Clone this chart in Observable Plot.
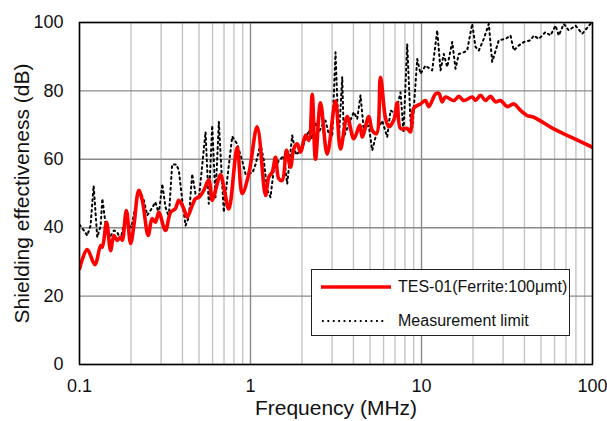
<!DOCTYPE html>
<html><head><meta charset="utf-8">
<script src="https://cdn.jsdelivr.net/npm/d3@7"></script>
<script src="https://cdn.jsdelivr.net/npm/@observablehq/plot@0.6"></script>
<style>
html,body{margin:0;padding:0;background:#fff;}
body{font-family:Arial,"Liberation Sans",sans-serif;}
#wrap{position:relative;width:607px;height:421px;overflow:hidden;}
#legend{position:absolute;left:311px;top:269px;width:259px;height:67px;border:1px solid #222;background:#fff;box-sizing:border-box;font-size:16px;color:#111;}
#legend .row{position:absolute;left:0;display:flex;align-items:center;height:20px;}
#legend svg{margin-left:9px;margin-right:7px;}
</style></head><body><div id="wrap"></div>
<script>
// TES-01 (Ferrite:100µmt) shielding effectiveness
const redFreq = [0.100,0.111,0.123,0.133,0.136,0.144,0.152,0.159,0.166,0.174,0.178,0.188,0.199,0.208,0.222,0.233,0.252,0.266,0.278,0.291,0.318,0.341,0.364,0.381,0.407,0.426,0.456,0.477,0.499,0.533,0.570,0.597,0.624,0.668,0.698,0.747,0.836,0.894,0.977,1.094,1.224,1.279,1.339,1.401,1.464,1.532,1.624,1.713,1.792,1.876,1.961,2.097,2.193,2.295,2.399,2.567,2.809,3.141,3.360,3.677,4.019,4.358,4.500,4.918,5.148,5.456,5.757,6.158,6.438,6.887,7.210,7.540,8.25,8.62,9.02,9.87,10.55,11.03,12.08,12.63,13.22,13.82,15.45,16.53,17.68,19.79,20.69,22.13,23.68,25.32,27.08,28.97,31.71,34.66,37.93,41.5,45.36,59.38,71.12,100];
const redDb = [28,33.6,29.2,34.8,34.3,41.6,33.3,37.7,36.3,37.2,36.3,45.0,35.4,40.6,50.9,48,37.7,42.7,41.6,44.5,39.2,44.5,45.6,48,45.6,43.1,46.5,48.5,48.9,50.9,54,48,50.9,55.5,51.9,45.5,63.5,50,55.7,69.5,49.4,54.8,56.2,60.6,54.3,53.8,62.6,57.7,63.1,64.5,62.1,67,65.5,79,60,76.5,61.5,77,63,72.5,66,70,66.5,72.5,68.5,67.5,84,72,69.5,71.5,76.5,69,69,68,75,76.2,77.2,75.4,79.1,79.3,76.8,78.2,77.2,78.4,77.2,78.2,77.2,78.7,77.2,78.4,76.8,77.2,75.4,76.2,74.3,72.8,72.3,68.9,67,63.5];

// Measurement limit
const limFreq = [0.100,0.106,0.111,0.116,0.121,0.127,0.133,0.136,0.142,0.148,0.159,0.166,0.174,0.182,0.188,0.201,0.222,0.238,0.249,0.260,0.278,0.291,0.305,0.318,0.333,0.348,0.369,0.381,0.399,0.417,0.436,0.456,0.477,0.499,0.546,0.570,0.597,0.624,0.653,0.683,0.698,0.734,0.782,0.836,0.894,0.935,0.977,1.027,1.070,1.144,1.196,1.252,1.309,1.369,1.464,1.565,1.639,1.753,1.845,2.006,2.097,2.193,2.295,2.399,2.508,2.626,2.746,2.870,3.005,3.141,3.284,3.439,3.513,3.757,4.019,4.207,4.399,4.598,4.918,5.148,5.508,5.891,6.302,6.589,7.047,7.540,7.85,8.25,8.62,8.86,9.44,9.87,10.55,11.55,12.36,12.92,13.50,14.14,15.12,15.81,16.53,17.68,18.50,19.79,20.69,21.63,23.13,24.75,25.91,28.31,30.99,33.15,34.66,37.07,39.65,43.40,45.36,48.53,53.11,56.80,60.75,63.51,67.96,72.67,79.54,87.06,97.3,100];
const limDb = [40.9,39.2,37.7,40.6,52.3,37.2,40.6,48.5,41.2,36.7,39.2,38.7,36.7,41.1,42,40,51.4,48,43.6,45,47.5,44.1,52.8,46.1,43.1,58.5,58.5,56.7,48,40.6,43.1,55.7,49.9,48.5,68,47,69.9,48.9,70.9,52.8,44.5,55,66.7,64.5,59.6,55.7,56,56,58.5,64.5,59.7,51,48.9,57.2,59.6,61,52.8,67,61.3,63.1,66,68.4,66,70.9,67.9,69.9,71.3,67.4,66.5,91.3,65.5,84.1,66.5,70.3,73.8,71.8,78.7,68.4,69.9,62.6,68.4,71.3,66.5,74.3,73.3,79.6,67.9,93.7,71.3,69.4,89.3,85,87.4,86,97.7,86,90.8,87,94.3,86.5,90.8,91.3,91.8,99.6,92.9,91.8,95.2,99.6,88.5,94.8,95.2,96.2,91.8,93.3,94.3,94.8,96.2,95.2,97.2,96.2,99.1,96.2,99.6,97.7,99.1,96.7,99.6,100];

const xTicks = [0.1, 1, 10, 100];
const xTickLabels = ["0.1", "1", "10", "100"];
const xMinor = [0.2,0.3,0.4,0.5,0.6,0.7,0.8,0.9,2,3,4,5,6,7,8,9,20,30,40,50,60,70,80,90];
const yTicks = [0, 20, 40, 60, 80, 100];
const seriesNames = ["TES-01(Ferrite:100μmt)", "Measurement limit"];
const xTitle = "Frequency (MHz)";
const yTitle = "Shielding effectiveness (dB)";

const red = redFreq.map((f, i) => ({f, v: redDb[i]}));
const lim = limFreq.map((f, i) => ({f, v: limDb[i]}));

const chart = Plot.plot({
  width: 607, height: 421,
  marginLeft: 79, marginRight: 15, marginTop: 22, marginBottom: 57,
  style: {fontFamily: "Arial, 'Liberation Sans', sans-serif", fontSize: "18px", color: "#111", background: "#fff", overflow: "visible"},
  x: {type: "log", domain: [0.1, 100]},
  y: {domain: [0, 100]},
  marks: [
    Plot.ruleX(xMinor, {stroke: "#c4c4c4", strokeWidth: 1.4}),
    Plot.ruleX(xTicks, {stroke: "#8a8a8a", strokeWidth: 1.4}),
    Plot.ruleY(yTicks, {stroke: "#8a8a8a", strokeWidth: 1.4}),
    Plot.line(lim, {x: "f", y: "v", stroke: "#000", strokeWidth: 2, strokeDasharray: "1.8,3.6", clip: true}),
    Plot.line(red, {x: "f", y: "v", stroke: "#ff0000", strokeWidth: 3.6, curve: "catmull-rom", clip: true}),
    Plot.frame({stroke: "#000", strokeWidth: 1.5}),
    Plot.axisX({ticks: xTicks, tickFormat: (d) => xTickLabels[xTicks.indexOf(d)], tickSize: 0, tickPadding: 15, label: null, fontSize: 18}),
    Plot.axisY({ticks: yTicks, tickSize: 0, tickPadding: 16, label: null, fontSize: 18}),
    Plot.text([xTitle], {frameAnchor: "bottom", dy: 50, fontSize: 21, fill: "#111"}),
    Plot.text([yTitle], {frameAnchor: "left", dx: -57, rotate: -90, textAnchor: "middle", fontSize: 21, fill: "#111"})
  ]
});
const wrap = document.getElementById("wrap");
wrap.appendChild(chart);

const leg = document.createElement("div");
leg.id = "legend";
leg.innerHTML = `
  <div class="row" style="top:7px"><svg width="70" height="10"><line x1="0" x2="70" y1="5" y2="5" stroke="#ff0000" stroke-width="3.6"/></svg><span>${seriesNames[0]}</span></div>
  <div class="row" style="top:41px"><svg width="70" height="10"><line x1="1" x2="64" y1="5" y2="5" stroke="#000" stroke-width="2" stroke-dasharray="1.8,3.6"/></svg><span>${seriesNames[1]}</span></div>`;
wrap.appendChild(leg);
</script>
</body></html>
